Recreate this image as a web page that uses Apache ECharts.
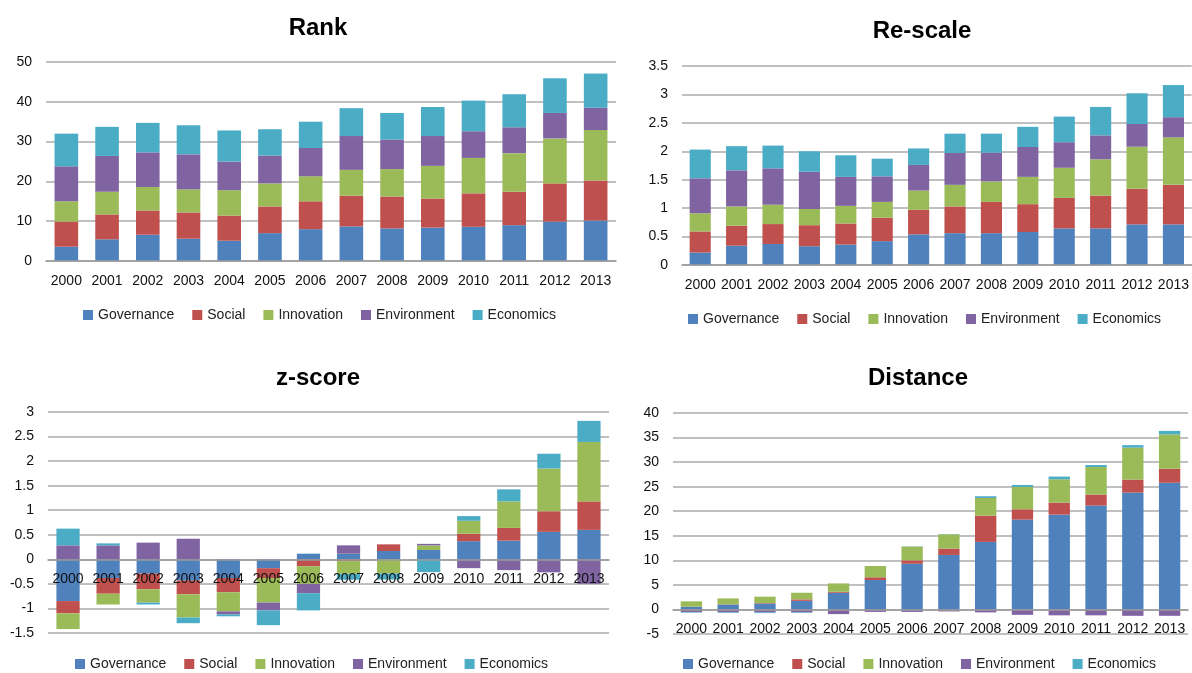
<!DOCTYPE html>
<html>
<head>
<meta charset="utf-8">
<script src="https://cdn.jsdelivr.net/npm/echarts@6/dist/echarts.min.js"></script>
<style>
html,body{margin:0;padding:0;background:#fff;}
#chart{width:1192px;height:673px;}
</style>
</head>
<body>
<div id="chart"></div>
<script>
// ---------- DATA ----------
const years = ['2000','2001','2002','2003','2004','2005','2006','2007','2008','2009','2010','2011','2012','2013'];
const seriesNames = ['Governance','Social','Innovation','Environment','Economics'];
const panelTitles = ['Rank','Re-scale','z-score','Distance'];

// Rank
const rankGovernance  = [3.6, 5.45, 6.6, 5.6, 5.1, 7.0, 8.0, 8.7, 8.2, 8.4, 8.6, 9.0, 9.9, 10.2];
const rankSocial      = [6.3, 6.25, 6.1, 6.6, 6.3, 6.7, 7.0, 7.7, 8.0, 7.3, 8.4, 8.4, 9.6, 10.0];
const rankInnovation  = [5.1, 5.7, 5.9, 5.8, 6.4, 5.8, 6.3, 6.5, 6.9, 8.2, 8.9, 9.7, 11.3, 12.7];
const rankEnvironment = [8.8, 9.0, 8.7, 8.8, 7.2, 7.0, 7.1, 8.5, 7.4, 7.5, 6.7, 6.5, 6.4, 5.6];
const rankEconomics   = [8.2, 7.3, 7.4, 7.3, 7.8, 6.6, 6.6, 7.0, 6.7, 7.3, 7.7, 8.3, 8.7, 8.6];

// Re-scale
const rescaleGovernance  = [0.22, 0.34, 0.37, 0.33, 0.36, 0.42, 0.54, 0.56, 0.56, 0.58, 0.645, 0.645, 0.715, 0.715];
const rescaleSocial      = [0.37, 0.35, 0.35, 0.37, 0.37, 0.41, 0.43, 0.47, 0.55, 0.49, 0.535, 0.575, 0.625, 0.695];
const rescaleInnovation  = [0.32, 0.34, 0.34, 0.285, 0.31, 0.28, 0.34, 0.38, 0.36, 0.48, 0.53, 0.64, 0.74, 0.835];
const rescaleEnvironment = [0.615, 0.635, 0.64, 0.655, 0.51, 0.45, 0.45, 0.56, 0.505, 0.525, 0.45, 0.42, 0.40, 0.355];
const rescaleEconomics   = [0.505, 0.425, 0.40, 0.36, 0.38, 0.31, 0.29, 0.34, 0.335, 0.355, 0.45, 0.50, 0.54, 0.565];

// z-score
const zGovernance  = [-0.85, -0.38, -0.29, -0.43, -0.38, -0.18, 0.115, 0.115, 0.17, 0.19, 0.37, 0.38, 0.56, 0.60];
const zSocial      = [-0.25, -0.32, -0.32, -0.28, -0.29, -0.20, -0.14, -0.035, 0.135, 0.0, 0.15, 0.26, 0.42, 0.58];
const zInnovation  = [-0.32, -0.22, -0.27, -0.475, -0.39, -0.50, -0.36, -0.26, -0.29, 0.095, 0.265, 0.54, 0.87, 1.21];
const zEnvironment = [0.285, 0.285, 0.34, 0.42, -0.06, -0.16, -0.19, 0.17, 0.0, 0.03, -0.18, -0.22, -0.265, -0.50];
const zEconomics   = [0.34, 0.04, -0.04, -0.115, -0.04, -0.30, -0.35, -0.12, -0.12, -0.26, 0.095, 0.245, 0.30, 0.43];

// Distance
const distGovernance  = [0.5, 1.0, 1.2, 1.75, 3.4, 6.0, 9.3, 11.1, 13.75, 18.3, 19.3, 21.15, 23.8, 25.8];
const distSocial      = [0.05, 0.05, 0.1, 0.3, 0.2, 0.55, 0.7, 1.3, 5.35, 2.1, 2.45, 2.25, 2.65, 2.85];
const distInnovation  = [1.1, 1.2, 1.3, 1.35, 1.7, 2.3, 2.8, 2.9, 3.6, 4.55, 4.75, 5.6, 6.5, 7.0];
const distEnvironment = [-0.55, -0.6, -0.6, -0.6, -0.95, -0.5, -0.5, -0.4, -0.6, -1.1, -1.2, -1.2, -1.3, -1.3];
const distEconomics   = [-0.1, -0.1, -0.15, -0.1, 0.0, 0.0, 0.05, 0.05, 0.35, 0.4, 0.55, 0.4, 0.5, 0.7];

// y-axis scales per panel
const yMin = [0, 0, -1.5, -5];
const yMax = [50, 3.5, 3, 40];
const yStep = [10, 0.5, 0.5, 5];

const panelData = [
  [rankGovernance, rankSocial, rankInnovation, rankEnvironment, rankEconomics],
  [rescaleGovernance, rescaleSocial, rescaleInnovation, rescaleEnvironment, rescaleEconomics],
  [zGovernance, zSocial, zInnovation, zEnvironment, zEconomics],
  [distGovernance, distSocial, distInnovation, distEnvironment, distEconomics]
];

// ---------- LAYOUT / STYLE ----------
const colors = ['#4F81BD', '#C0504D', '#9BBB59', '#8064A2', '#4BACC6'];
const FONT = 'Liberation Sans';
const grids = [
  {left: 46,  top: 62,  width: 570, height: 199},
  {left: 682, top: 66,  width: 510, height: 199},
  {left: 48,  top: 412, width: 561, height: 221},
  {left: 673, top: 413, width: 515, height: 221}
];
const titlePos = [[318, 16], [922, 19], [318, 366], [918, 366]];
const legendPos = [[83, 308], [688, 312], [75, 657], [683, 657]];

const option = {
  animation: false,
  color: colors,
  textStyle: {fontFamily: FONT},
  title: panelTitles.map((t, i) => ({
    text: t, left: titlePos[i][0], top: titlePos[i][1], textAlign: 'center', padding: 0,
    textStyle: {fontFamily: FONT, fontWeight: 'bold', fontSize: 24, color: '#000'}
  })),
  legend: legendPos.map((p, i) => ({
    data: seriesNames, left: p[0], top: p[1], itemWidth: 10, itemHeight: 10, itemGap: 18,
    icon: 'rect', padding: 0,
    textStyle: {fontFamily: FONT, fontSize: 14, color: '#222'}
  })),
  grid: grids,
  // category axis drawn at the value-axis zero line (offset derived from the axis range)
  xAxis: grids.map((g, i) => ({
    type: 'category', gridIndex: i, data: years, z: 10,
    offset: -g.height * (0 - yMin[i]) / (yMax[i] - yMin[i]),
    axisLine: {onZero: false, lineStyle: {color: '#9a9a9a', width: 1.5}},
    axisTick: {show: false},
    axisLabel: {interval: 0, margin: 13, fontSize: 14, color: '#111', fontFamily: FONT}
  })),
  yAxis: grids.map((g, i) => ({
    type: 'value', gridIndex: i, min: yMin[i], max: yMax[i], interval: yStep[i],
    axisLine: {show: false}, axisTick: {show: false},
    splitLine: {lineStyle: {color: '#ababab', width: 1.5}},
    axisLabel: {margin: 14, fontSize: 14, color: '#111', fontFamily: FONT}
  })),
  series: []
};

panelData.forEach((arrs, p) => {
  arrs.forEach((vals, s) => {
    option.series.push({
      name: seriesNames[s], type: 'bar', stack: 'panel' + p,
      xAxisIndex: p, yAxisIndex: p, data: vals,
      barWidth: '58%',
      itemStyle: {color: colors[s]}
    });
  });
});

const chart = echarts.init(document.getElementById('chart'));
chart.setOption(option);
</script>
</body>
</html>
